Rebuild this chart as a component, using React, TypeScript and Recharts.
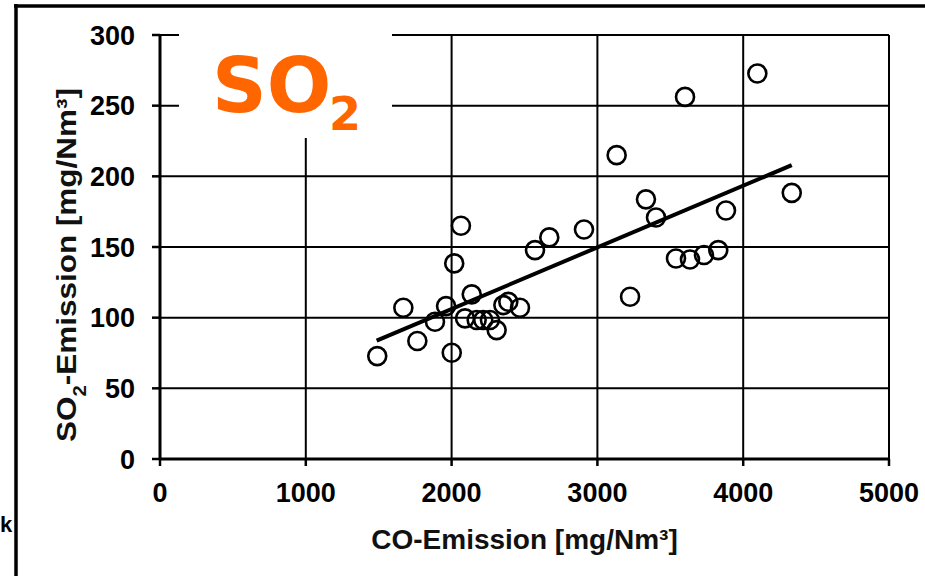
import { ScatterChart, Scatter, XAxis, YAxis, CartesianGrid, ReferenceLine } from 'recharts'

const coValues = [
  1490, 1669, 1765, 1886, 1962, 2001, 2018, 2064, 2092, 2138, 2172, 2217, 2263, 2309, 2355, 2389,
  2469, 2572, 2670, 2908, 3132, 3224, 3333, 3402, 3539, 3601, 3635, 3731, 3829, 3882, 4097, 4333,
]
const so2Values = [
  72.8, 107.0, 83.5, 97.1, 108.2, 75.2, 138.4, 165.0, 99.5, 116.5, 98.3, 98.3, 98.3, 91.2, 108.9, 111.2,
  107.0, 147.8, 156.8, 162.4, 215.0, 114.8, 183.7, 170.9, 141.9, 256.2, 141.2, 144.3, 147.8, 175.8, 272.8, 188.3,
]
const trendX = [1486, 4333]
const trendY = [83.7, 207.9]
const xTicks = [0, 1000, 2000, 3000, 4000, 5000]
const yTicks = [0, 50, 100, 150, 200, 250, 300]

const points = coValues.map((x, i) => ({ x, y: so2Values[i] }))
const trend = trendX.map((x, i) => ({ x, y: trendY[i] }))

const font = "'Liberation Sans', Arial, sans-serif"
const tickStyle = { fill: '#000', fontSize: 27, fontWeight: 'bold', fontFamily: font }

const Ring = (props: any) => (
  <circle cx={props.cx} cy={props.cy} r={9} fill="none" stroke="#000" strokeWidth={2.6} />
)

const XLabel = (props: any) => {
  const vb = props.viewBox
  return (
    <text x={vb.x + vb.width / 2} y={549} textAnchor="middle" fontSize={28} fontWeight="bold" fontFamily={font} fill="#111">
      CO-Emission [mg/Nm³]
    </text>
  )
}

const YLabel = () => (
  <text
    transform="translate(76,265) rotate(-90)"
    textAnchor="middle"
    fontSize={28}
    fontWeight="bold"
    fontFamily={font}
    fill="#111"
    textLength={354}
    lengthAdjust="spacingAndGlyphs"
  >
    SO<tspan baselineShift="sub" fontSize={18}>2</tspan>-Emission [mg/Nm³]
  </text>
)

export default function App() {
  return (
    <div style={{ position: 'absolute', left: 0, top: 0, width: 925, height: 576, background: '#fff' }}>
      <ScatterChart width={925} height={576} margin={{ top: 35, right: 36, left: 0, bottom: 0 }}>
        <CartesianGrid stroke="#000" strokeWidth={2} />
        <XAxis
          type="number"
          dataKey="x"
          domain={[0, 5000]}
          ticks={xTicks}
          interval={0}
          height={117}
          tick={tickStyle}
          tickSize={7}
          tickMargin={17}
          axisLine={{ stroke: '#000', strokeWidth: 3 }}
          tickLine={{ stroke: '#000', strokeWidth: 2.5 }}
          label={{ content: XLabel }}
        />
        <YAxis
          type="number"
          dataKey="y"
          domain={[0, 300]}
          ticks={yTicks}
          interval={0}
          width={160}
          tick={tickStyle}
          tickSize={8}
          tickMargin={17}
          axisLine={{ stroke: '#000', strokeWidth: 3 }}
          tickLine={{ stroke: '#000', strokeWidth: 2.5 }}
          label={{ content: YLabel }}
        />
        <ReferenceLine segment={trend} stroke="#000" strokeWidth={4} />
        <Scatter data={points} shape={Ring} isAnimationActive={false} />
      </ScatterChart>
      <svg width={925} height={576} style={{ position: 'absolute', left: 0, top: 0, pointerEvents: 'none' }}>
        <rect x={179} y={24} width={213} height={114} fill="#fff" />
        <text x={212} y={112} fontSize={76} fontWeight="bold" fontFamily="'DejaVu Sans', Verdana, sans-serif" fill="#ff6600">
          SO
        </text>
        <text x={329} y={130} fontSize={46} fontWeight="bold" fontFamily="'DejaVu Sans', Verdana, sans-serif" fill="#ff6600">
          2
        </text>
        <text x={0} y={532} fontSize={22} fontWeight="bold" fontFamily={font} fill="#000">
          k
        </text>
        <line x1={14} y1={6} x2={925} y2={6} stroke="#000" strokeWidth={3.5} />
        <line x1={16} y1={4} x2={16} y2={576} stroke="#000" strokeWidth={3.5} />
      </svg>
    </div>
  )
}
